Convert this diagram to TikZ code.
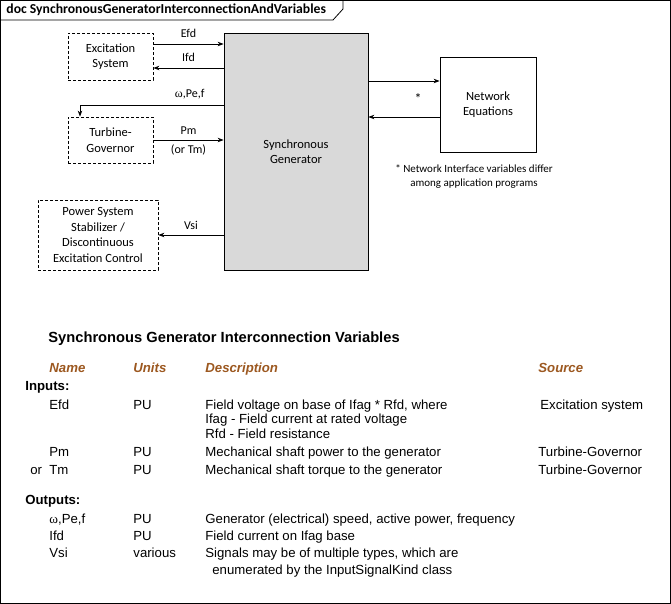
\documentclass[tikz,border=0pt]{standalone}
\usepackage{fontspec}
\setmainfont{Carlito}
\newfontfamily\tabfont{Liberation Sans}
\newfontfamily\grkfont{Liberation Serif}
\usetikzlibrary{arrows.meta,positioning}
\definecolor{hdrbrown}{RGB}{156,88,32}
\definecolor{genfill}{RGB}{217,217,217}

\begin{document}
\begin{tikzpicture}[x=1pt,y=-1pt,>={Stealth[length=6pt,width=4.5pt]},
            line width=0.8pt,
            sig/.style={->},
            block/.style={draw,align=center,inner sep=0pt,
                font=\fontsize{12.5}{15.5}\selectfont},
            dblock/.style={block,dash pattern=on 3pt off 2pt},
            lbl/.style={font=\fontsize{12}{14}\selectfont,inner sep=2pt},
            cell/.style={anchor=west,inner sep=0pt,text height=9pt,text depth=0pt,
                font=\tabfont\fontsize{13.2}{14}\selectfont},
            hdr/.style={cell,text=hdrbrown,font=\tabfont\bfseries\itshape\fontsize{13.2}{14}\selectfont},
            grp/.style={cell,font=\tabfont\bfseries\fontsize{13.2}{14}\selectfont}]
            \useasboundingbox (0,0) rectangle (671,604);

            % frame and tab
            \draw (0.5,0.5) rectangle (670.5,603.5);
            \draw (0.5,20) -- (333,20) -- (343,9) -- (343,0.5);
            \node[anchor=west,inner sep=0pt,font=\bfseries\fontsize{13.7}{15}\selectfont] (doc) at (6,10)
                {doc SynchronousGeneratorInterconnectionAndVariables};

            % blocks
            \node[block,fill=genfill,minimum width=144pt,minimum height=237pt] (gen) at (296,151.5)
                {Synchronous\\Generator};
            \node[dblock,minimum width=85pt,minimum height=47pt] (exc) at (110.5,56.5)
                {Excitation\\System};
            \node[dblock,minimum width=85pt,minimum height=46pt] (tgov) at (110.5,140)
                {Turbine-\\Governor};
            \node[dblock,minimum width=120pt,minimum height=70pt] (pss) at (98,235)
                {Power System\\Stabilizer /\\Discontinuous\\Excitation Control};
            \node[block,minimum width=96pt,minimum height=95pt] (net) at (488,104.5)
                {Network\\Equations};

            % signals
            \coordinate (efdL) at ([yshift=12.5pt]exc.east);
            \coordinate (ifdL) at ([yshift=-11.5pt]exc.east);
            \coordinate (wR) at ([yshift=46.5pt]gen.west);
            \coordinate (wD) at ([xshift=-30.5pt]tgov.north);
            \coordinate (nTop) at ([yshift=23.5pt]net.west);
            \coordinate (nBot) at ([yshift=-12.5pt]net.west);

            \draw[sig] (efdL) -- (efdL -| gen.west) node[lbl,midway,above=4pt] {Efd};
            \draw[sig] (ifdL -| gen.west) -- (ifdL) node[lbl,midway,above=4pt] {Ifd};
            \draw[sig] (wR) -| (wD) node[lbl,pos=0.118,above=4pt] {{\grkfont ω},Pe,f};
            \draw[sig] (tgov.east) -- (tgov.east -| gen.west)
                node[lbl,midway,above=3pt] {Pm} node[lbl,midway,below=2pt] {(or Tm)};
            \draw[sig] (pss.east -| gen.west) -- (pss.east) node[lbl,midway,above=3pt] {Vsi};
            \draw[sig] (nTop -| gen.east) -- (nTop);
            \draw[sig] (nBot) -- (nBot -| gen.east);
            \node[lbl,font=\fontsize{14}{14}\selectfont] (star) at (418,99) {*};
            \node[align=center,inner sep=0pt,font=\fontsize{11}{14}\selectfont] (note) at (474,177)
                {* Network Interface variables differ\\among application programs};

            % table
            \node[grp,font=\tabfont\bfseries\fontsize{14.7}{16}\selectfont] (ttl) at (48,338)
                {Synchronous Generator Interconnection Variables};
            \node[hdr] (hName) at (49,368) {Name};
            \node[hdr] (hUnits) at (133,368) {Units};
            \node[hdr] (hDesc) at (205,368) {Description};
            \node[hdr] (hSrc) at (538,368) {Source};

            \node[grp] (gIn) at (25,386) {Inputs:};
            \node[cell] (efdN) at (49,405) {Efd};
            \node[cell] (efdU) at (133,405) {PU};
            \node[cell] (efdD) at (205,405) {Field voltage on base of Ifag * Rfd, where};
            \node[cell] (efdD2) at (205,419) {Ifag - Field current at rated voltage};
            \node[cell] (efdD3) at (205,434) {Rfd - Field resistance};
            \node[cell] (efdS) at (540,405) {Excitation system};

            \node[cell] (pmN) at (49,452) {Pm};
            \node[cell] (pmU) at (133,452) {PU};
            \node[cell] (pmD) at (205,452) {Mechanical shaft power to the generator};
            \node[cell] (pmS) at (538,452) {Turbine-Governor};

            \node[cell] (tmOr) at (30,470) {or};
            \node[cell] (tmN) at (49,470) {Tm};
            \node[cell] (tmU) at (133,470) {PU};
            \node[cell] (tmD) at (205,470) {Mechanical shaft torque to the generator};
            \node[cell] (tmS) at (538,470) {Turbine-Governor};

            \node[grp] (gOut) at (25,500) {Outputs:};
            \node[cell] (wN) at (49,519) {{\grkfont ω},Pe,f};
            \node[cell] (wU) at (133,519) {PU};
            \node[cell] (wDsc) at (205,519) {Generator (electrical) speed, active power, frequency};
            \node[cell] (ifdN) at (49,536) {Ifd};
            \node[cell] (ifdU) at (133,536) {PU};
            \node[cell] (ifdD) at (205,536) {Field current on Ifag base};
            \node[cell] (vsiN) at (49,553) {Vsi};
            \node[cell] (vsiU) at (133,553) {various};
            \node[cell] (vsiD) at (205,553) {Signals may be of multiple types, which are};
            \node[cell] (vsiD2) at (212,570) {enumerated by the InputSignalKind class};
        \end{tikzpicture}
\end{document}
